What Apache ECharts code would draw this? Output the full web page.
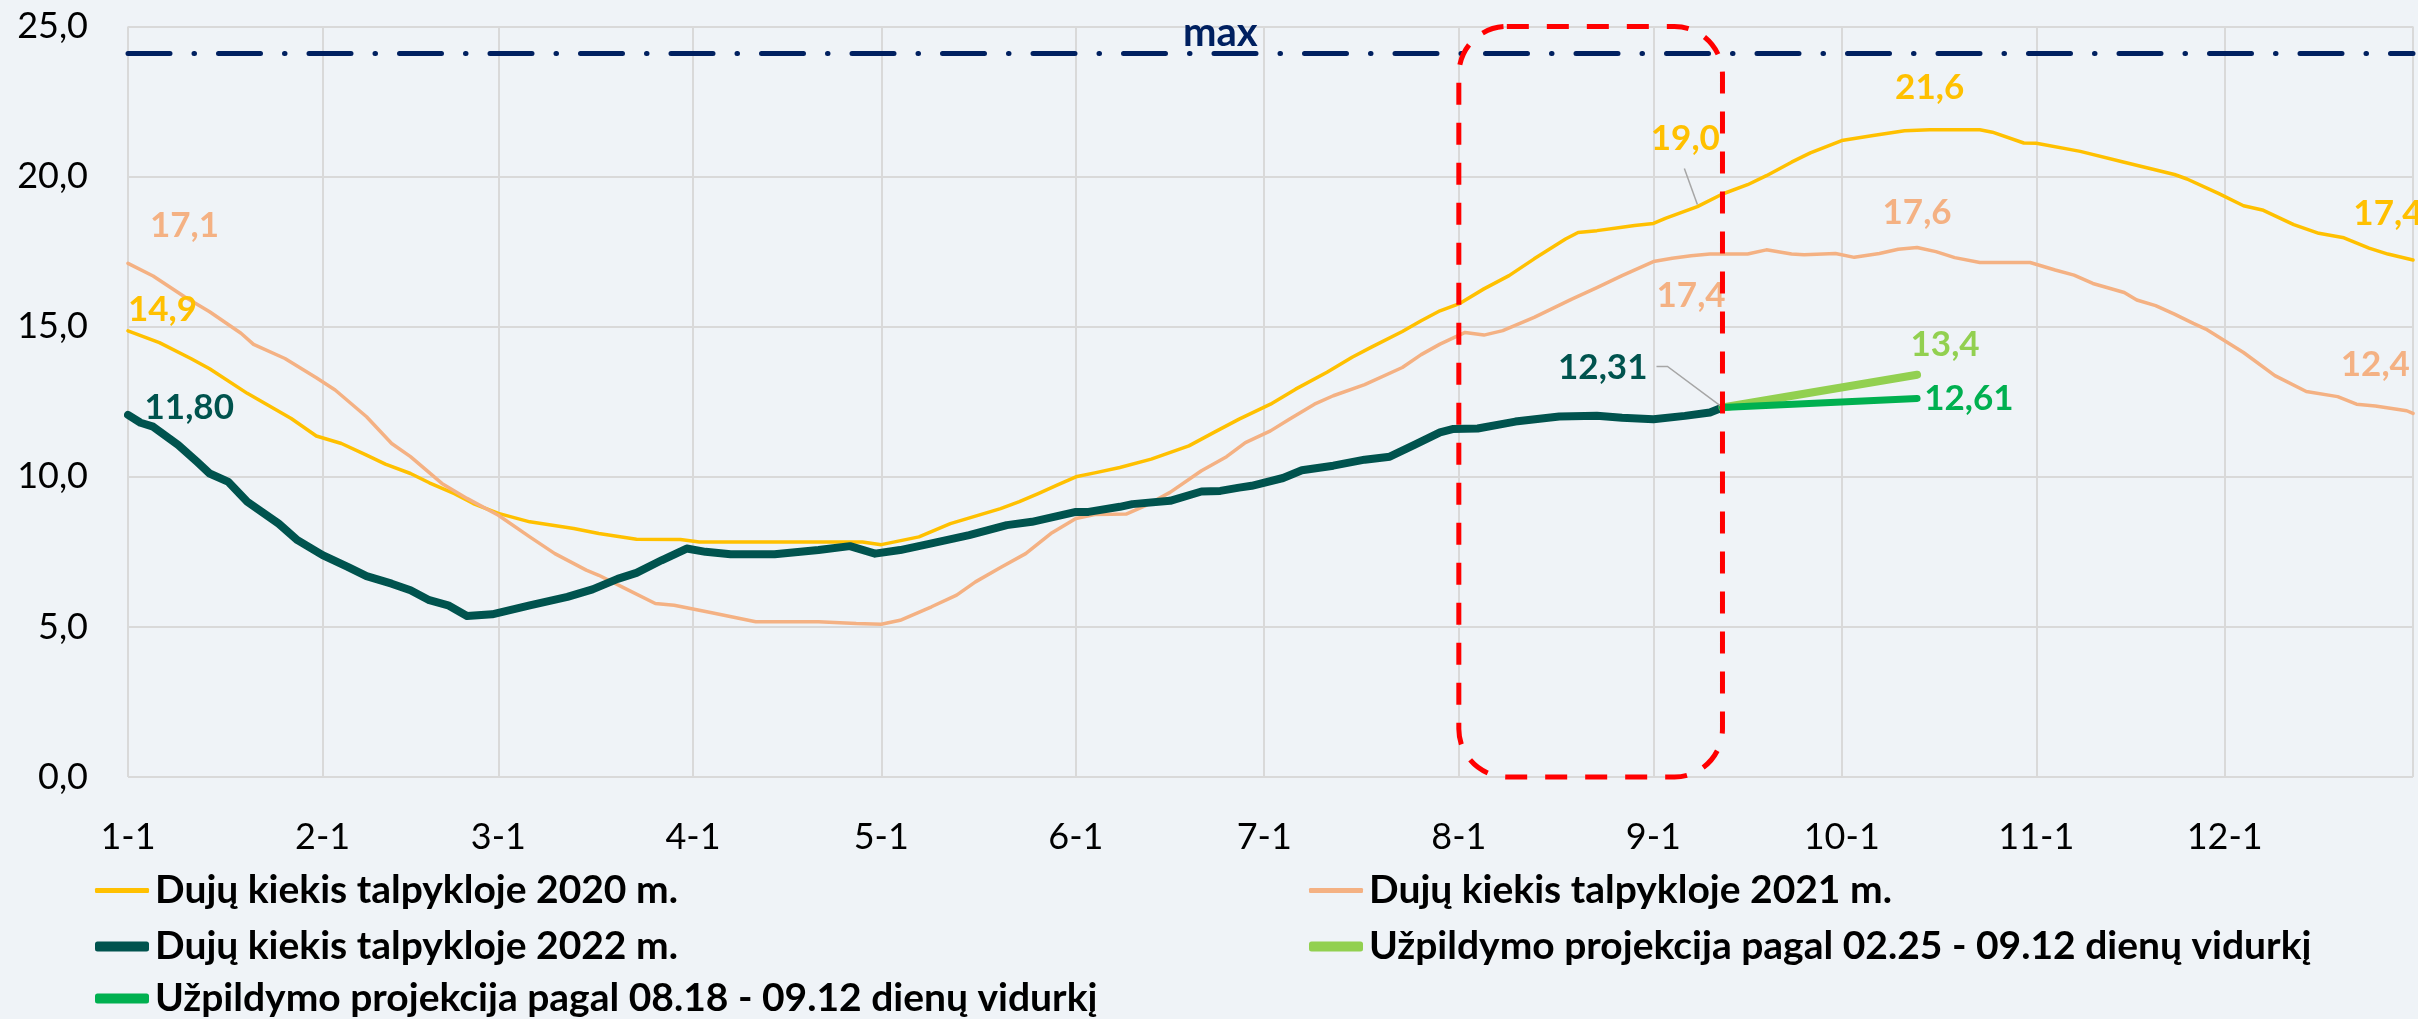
<!DOCTYPE html>
<html><head><meta charset="utf-8">
<script src="https://cdn.jsdelivr.net/npm/echarts@6/dist/echarts.min.js"></script>
<style>html,body{margin:0;padding:0;background:#EFF3F7;} #c{width:2418px;height:1019px;}</style>
</head><body><div id="c"></div>
<script>
// ---- categories: every day of the year, labelled "M-D" ----
const monthLengths = [31,28,31,30,31,30,31,31,30,31,30,31];
const categories = [];
const monthStartIdx = [];
monthLengths.forEach((n, m) => { monthStartIdx.push(categories.length); for (let d = 1; d <= n; d++) categories.push((m + 1) + '-' + d); });
const lastIdx = categories.length - 1;

// ---- y axis ticks ----
const yTicks = [0, 5, 10, 15, 20, 25];

// ---- series: day index (0 = 1-1) and value ----
const days2020 = [0,5,10,13,19,26,30,34,38,41,45,48,52,55,59,64,71,75,81,88,91,117,120,126,131,139,142,145,148,151,154,158,163,169,173,177,182,186,191,195,198,203,206,209,212,216,220,224,229,231,234,238,240,243,245,250,254,258,261,265,268,273,278,283,287,295,297,302,304,311,318,326,328,333,337,340,345,349,353,357,360,364];
const vals2020 = [14.86,14.47,13.94,13.6,12.78,11.94,11.36,11.11,10.72,10.42,10.11,9.8,9.44,9.11,8.78,8.5,8.28,8.11,7.92,7.91,7.83,7.83,7.74,8.0,8.44,8.94,9.17,9.44,9.72,10.0,10.13,10.31,10.59,11.03,11.48,11.92,12.42,12.92,13.48,13.98,14.31,14.84,15.2,15.53,15.76,16.26,16.7,17.26,17.92,18.14,18.2,18.31,18.37,18.44,18.62,19.0,19.42,19.73,20.03,20.48,20.79,21.2,21.37,21.53,21.56,21.56,21.48,21.12,21.11,20.84,20.48,20.07,19.92,19.44,19.03,18.89,18.4,18.11,17.96,17.62,17.42,17.22];

const days2021 = [0,4,9,13,18,20,25,30,33,38,42,45,50,54,59,64,68,73,75,79,84,87,93,100,110,116,120,123,128,132,135,139,143,147,151,154,159,162,166,171,175,178,182,185,189,192,197,203,206,209,213,216,219,224,230,234,238,243,246,249,252,258,261,265,267,272,275,279,282,285,288,291,295,303,307,310,313,318,320,323,326,329,331,334,337,342,347,352,355,358,363,364];
const vals2021 = [17.11,16.69,16.0,15.5,14.78,14.41,13.94,13.3,12.89,12.0,11.11,10.67,9.78,9.28,8.72,8.0,7.44,6.89,6.72,6.3,5.78,5.72,5.47,5.17,5.17,5.11,5.09,5.22,5.67,6.06,6.5,6.98,7.44,8.11,8.61,8.74,8.76,9.03,9.48,10.2,10.67,11.14,11.53,11.92,12.42,12.7,13.07,13.64,14.07,14.42,14.81,14.72,14.87,15.31,15.92,16.3,16.7,17.17,17.28,17.36,17.42,17.42,17.56,17.42,17.4,17.44,17.31,17.44,17.58,17.64,17.5,17.3,17.14,17.14,16.89,16.72,16.44,16.14,15.89,15.7,15.42,15.11,14.92,14.53,14.14,13.37,12.84,12.67,12.42,12.36,12.2,12.11];

const days2022 = [0,2,4,8,11,13,16,19,24,27,31,35,38,42,45,48,51,54,58,64,70,74,78,81,85,89,92,96,103,110,115,119,123,128,134,140,144,151,153,158,160,166,171,174,177,179,184,187,192,197,201,205,209,211,215,221,228,234,238,243,248,252,254];
const vals2022 = [12.06,11.80,11.67,11.06,10.5,10.11,9.83,9.17,8.44,7.89,7.39,7.0,6.69,6.44,6.22,5.89,5.72,5.36,5.42,5.72,6.0,6.25,6.6,6.8,7.22,7.61,7.5,7.42,7.42,7.56,7.69,7.44,7.56,7.78,8.06,8.39,8.5,8.83,8.83,9.0,9.09,9.2,9.51,9.53,9.64,9.7,9.96,10.22,10.37,10.57,10.67,11.07,11.48,11.59,11.61,11.84,12.01,12.03,11.97,11.92,12.03,12.14,12.31];

const daysProjA = [254, 285];   // 02.25 - 09.12
const valsProjA = [12.31, 13.4];
const daysProjB = [254, 285];   // 08.18 - 09.12
const valsProjB = [12.31, 12.61];

const daysMax = [0, 174, 364];
const valsMax = [24.1, 24.1, 24.1];

// labelled points (day index)
const labelDays2020 = [0, 250, 287, 360];
const labelDays2021 = [0, 249, 285, 358];
const labelDays2022 = [2, 254];
const labelDaysProjA = [285];
const labelDaysProjB = [285];
const labelDaysMax = [174];

const highlightRange = ['8-1', '9-12'];

// ---- names and colours ----
const N2020 = 'Dujų kiekis talpykloje 2020 m.';
const N2021 = 'Dujų kiekis talpykloje 2021 m.';
const N2022 = 'Dujų kiekis talpykloje 2022 m.';
const NPA = 'Užpildymo projekcija pagal 02.25 - 09.12 dienų vidurkį';
const NPB = 'Užpildymo projekcija pagal 08.18 - 09.12 dienų vidurkį';
const C2020 = '#FFC000', C2021 = '#F4B183', C2022 = '#00534E', CPA = '#92D050', CPB = '#00B050', CMAX = '#002060';

const FONT = 'Lato, "Noto Sans", sans-serif';
const fmt = (v, dec) => v.toFixed(dec).replace('.', ',');

// label placement per series/day (style only)
const labelPlace = {
  '2020': {0:{position:'top',align:'left',distance:4}, 250:{position:'top',distance:50,offset:[-12,0]}, 287:{position:'top',distance:25}, 360:{position:'top',distance:23}},
  '2021': {0:{position:'top',align:'left',distance:20,offset:[22,0]}, 249:{position:'bottom',distance:22}, 285:{position:'top',distance:17}, 358:{position:'top',distance:24}},
  '2022': {2:{position:'top',align:'left',distance:8,offset:[4,11]}, 254:{position:'left',distance:75,offset:[0,-40]}},
  'pa': {285:{position:'top',distance:12,offset:[28,0]}},
  'pb': {285:{position:'right',distance:7}},
  'max': {174:{position:'top',distance:0, fontSize: 40}}
};

function build(days, vals, labelDays, key, color, dec, text) {
  return days.map((d, i) => {
    const item = { value: [d, vals[i]] };
    if (labelDays.indexOf(d) >= 0) {
      const p = labelPlace[key][d] || {};
      item.label = Object.assign({
        show: true, color: color, fontFamily: FONT, fontWeight: 'bold', fontSize: 35,
        formatter: text ? text : () => fmt(vals[i], dec)
      }, p);
    }
    return item;
  });
}

function lineSeries(name, data, color, width, z) {
  return {
    name: name, type: 'line', data: data, z: z,
    symbol: 'circle', symbolSize: 0.1, showSymbol: true, showAllSymbol: true,
    itemStyle: { color: color },
    lineStyle: { color: color, width: width, cap: 'round', join: 'round' },
    emphasis: { disabled: true }, animation: false, silent: true
  };
}

function legendItem(name, color, thick, left, top) {
  return {
    data: [{ name: name, icon: 'roundRect' }], orient: 'horizontal', left: left, top: top,
    itemWidth: 54, itemHeight: thick, selectedMode: false, padding: 0,
    itemStyle: { color: color, borderWidth: 0 },
    textStyle: { color: '#000', fontSize: 39, fontWeight: 'bold', fontFamily: FONT, padding: [0, 0, 0, 1] }
  };
}

const chart = echarts.init(document.getElementById('c'), null, { renderer: 'canvas' });

const rowTop = [871, 927, 979];
const colLeft = [95, 1309];

const option = {
  backgroundColor: '#EFF3F7',
  animation: false,
  textStyle: { fontFamily: FONT },
  grid: { left: 128, right: 5, top: 26.5, bottom: 242, containLabel: false },
  xAxis: {
    type: 'category', data: categories, boundaryGap: false,
    axisLine: { show: false }, axisTick: { show: false },
    axisLabel: {
      interval: (i) => monthStartIdx.indexOf(i) >= 0,
      color: '#000', fontSize: 36, fontFamily: FONT, margin: 42
    },
    splitLine: { show: true, interval: (i) => monthStartIdx.indexOf(i) >= 0 || i === lastIdx, lineStyle: { color: '#D9D9D9', width: 2 } }
  },
  yAxis: {
    type: 'value', min: yTicks[0], max: yTicks[yTicks.length - 1], interval: 5,
    axisLine: { show: false }, axisTick: { show: false },
    axisLabel: { formatter: (v) => fmt(v, 1), color: '#000', fontSize: 36, fontFamily: FONT, margin: 40 },
    splitLine: { show: true, lineStyle: { color: '#D9D9D9', width: 2 } }
  },
  legend: [
    legendItem(N2020, C2020, 5, colLeft[0], rowTop[0]),
    legendItem(N2021, C2021, 5, colLeft[1], rowTop[0]),
    legendItem(N2022, C2022, 10, colLeft[0], rowTop[1]),
    legendItem(NPA, CPA, 10, colLeft[1], rowTop[1]),
    legendItem(NPB, CPB, 10, colLeft[0], rowTop[2])
  ],
  series: [
    lineSeries(N2020, build(days2020, vals2020, labelDays2020, '2020', C2020, 1), C2020, 3.5, 2),
    lineSeries(N2021, build(days2021, vals2021, labelDays2021, '2021', C2021, 1), C2021, 3.5, 2),
    lineSeries(N2022, build(days2022, vals2022, labelDays2022, '2022', C2022, 2), C2022, 8, 3),
    lineSeries(NPA, build(daysProjA, valsProjA, labelDaysProjA, 'pa', CPA, 1), CPA, 8, 4),
    lineSeries(NPB, build(daysProjB, valsProjB, labelDaysProjB, 'pb', CPB, 2), CPB, 7, 5),
    Object.assign(lineSeries('max', build(daysMax, valsMax, labelDaysMax, 'max', CMAX, 1, 'max'), CMAX, 5, 1),
      { lineStyle: { color: CMAX, width: 5, type: [42, 24, 0.5, 24], cap: 'round' } })
  ]
};
chart.setOption(option);

// ---- overlays positioned from data ----
const px = (x, y) => chart.convertToPixel({ xAxisIndex: 0, yAxisIndex: 0 }, [x, y]);
const b1 = px(highlightRange[0], yTicks[yTicks.length - 1]);
const b2 = px(highlightRange[1], yTicks[0]);
const p190 = px(250, vals2020[days2020.indexOf(250)]);
const p1231 = px(254, vals2022[days2022.indexOf(254)]);
chart.setOption({
  graphic: [
    { type: 'rect', z: 100, silent: true,
      shape: { x: b1[0], y: b1[1], width: b2[0] - b1[0], height: b2[1] - b1[1], r: 48 },
      style: { fill: 'transparent', stroke: '#FF0000', lineWidth: 5, lineDash: [22, 18] } },
    { type: 'line', z: 90, silent: true,
      shape: { x1: p190[0] - 13, y1: p190[1] - 38, x2: p190[0], y2: p190[1] - 2 },
      style: { stroke: '#A6A6A6', lineWidth: 1.5 } },
    { type: 'polyline', z: 90, silent: true,
      shape: { points: [[p1231[0] - 66, p1231[1] - 41], [p1231[0] - 55, p1231[1] - 41], [p1231[0], p1231[1]]] },
      style: { stroke: '#A6A6A6', lineWidth: 1.5, fill: 'none' } }
  ]
});
</script></body></html>
